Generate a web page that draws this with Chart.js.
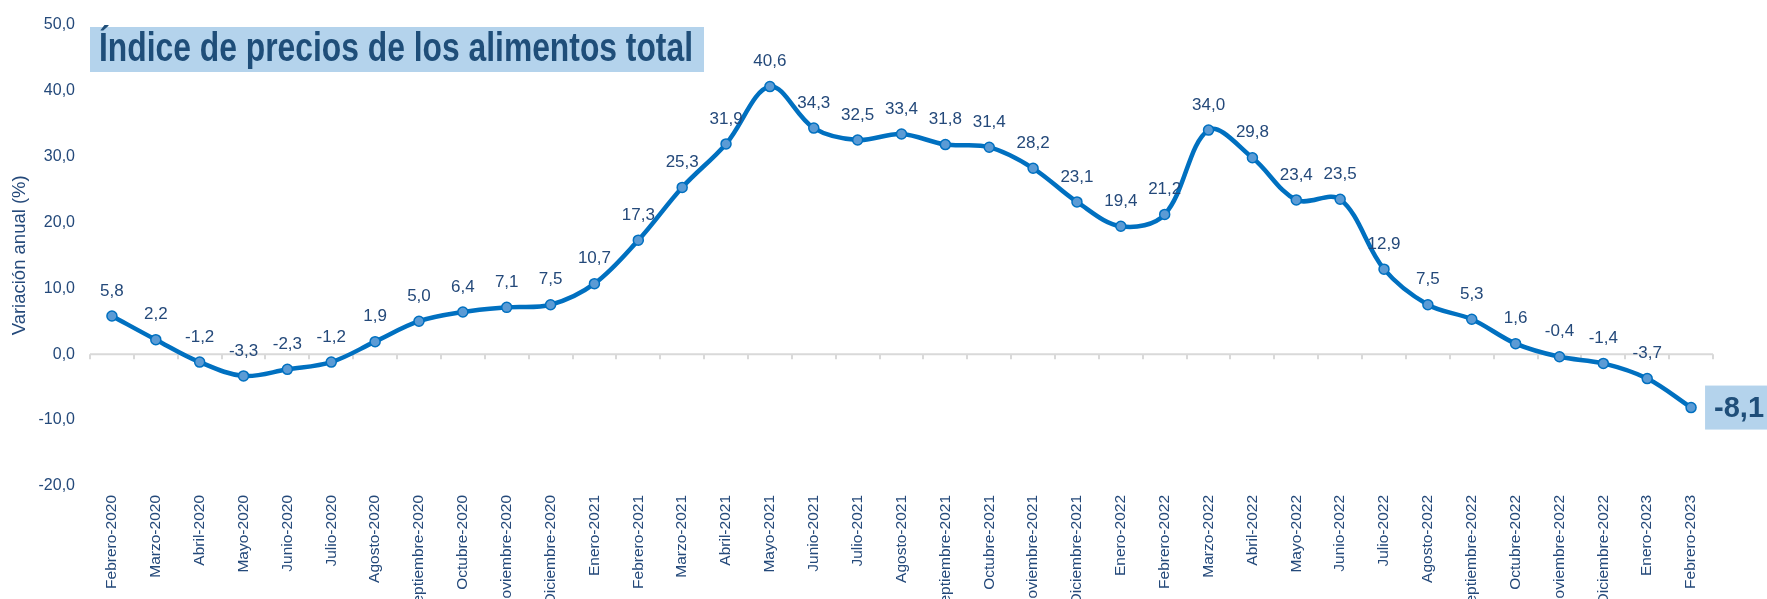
<!DOCTYPE html>
<html><head><meta charset="utf-8">
<script src="https://cdn.jsdelivr.net/npm/chart.js@4"></script>
<style>html,body{margin:0;padding:0;background:#fff;overflow:hidden}#wrap{width:1767px;height:599px;position:relative}</style>
</head><body><div id="wrap"><canvas id="c" width="1767" height="599"></canvas></div>
<script>
const categories = ['Febrero-2020','Marzo-2020','Abril-2020','Mayo-2020','Junio-2020','Julio-2020','Agosto-2020','Septiembre-2020','Octubre-2020','Noviembre-2020','Diciembre-2020',
  'Enero-2021','Febrero-2021','Marzo-2021','Abril-2021','Mayo-2021','Junio-2021','Julio-2021','Agosto-2021','Septiembre-2021','Octubre-2021','Noviembre-2021','Diciembre-2021',
  'Enero-2022','Febrero-2022','Marzo-2022','Abril-2022','Mayo-2022','Junio-2022','Julio-2022','Agosto-2022','Septiembre-2022','Octubre-2022','Noviembre-2022','Diciembre-2022',
  'Enero-2023','Febrero-2023'];
const values = [5.8, 2.2, -1.2, -3.3, -2.3, -1.2, 1.9, 5.0, 6.4, 7.1, 7.5,
  10.7, 17.3, 25.3, 31.9, 40.6, 34.3, 32.5, 33.4, 31.8, 31.4, 28.2, 23.1,
  19.4, 21.2, 34.0, 29.8, 23.4, 23.5, 12.9, 7.5, 5.3, 1.6, -0.4, -1.4,
  -3.7, -8.1];
const yMin = -20, yMax = 50, yStep = 10;
const chartTitle = 'Índice de precios de los alimentos total';
const yAxisTitle = 'Variación anual (%)';

const fmt = v => v.toFixed(1).replace('.', ',');
const FONT = '"Liberation Sans", Arial, sans-serif';
const TEXT = '#24497a';
const DARK = '#1f4e79';
const BOX = '#b4d3ec';

const decor = {
  id: 'decor',
  beforeDatasetsDraw(chart) {
    const ctx = chart.ctx, x = chart.scales.x, y = chart.scales.y, a = chart.chartArea;
    const y0 = y.getPixelForValue(0);
    const step = x.getPixelForValue(1) - x.getPixelForValue(0);
    ctx.save();
    ctx.strokeStyle = '#d9d9d9';
    ctx.lineWidth = 2;
    ctx.beginPath();
    ctx.moveTo(a.left, y0); ctx.lineTo(a.right, y0);
    for (let i = 0; i <= categories.length; i++) {
      const px = Math.round(x.getPixelForValue(0) + (i - 0.5) * step);
      ctx.moveTo(px, y0); ctx.lineTo(px, y0 + 5);
    }
    ctx.stroke();
    ctx.restore();
  },
  afterDraw(chart) {
    const ctx = chart.ctx;
    const meta = chart.getDatasetMeta(0);
    ctx.save();
    // data labels
    ctx.font = '17px ' + FONT;
    ctx.fillStyle = TEXT;
    ctx.textAlign = 'center';
    ctx.textBaseline = 'middle';
    const n = values.length;
    meta.data.forEach((pt, i) => {
      if (i === n - 1) return;
      ctx.fillText(fmt(values[i]), pt.x, pt.y - 25);
    });
    // last value callout
    const last = meta.data[n - 1];
    const bx = last.x + 14;
    ctx.fillStyle = BOX;
    ctx.fillRect(bx, last.y - 22, chart.width - bx, 44);
    ctx.font = 'bold 29px ' + FONT;
    ctx.fillStyle = DARK;
    ctx.textAlign = 'left';
    ctx.fillText(fmt(values[n - 1]), bx + 9, last.y + 1);
    // title box
    ctx.fillStyle = BOX;
    ctx.fillRect(90, 27, 614, 45);
    ctx.font = 'bold 40px ' + FONT;
    ctx.fillStyle = DARK;
    ctx.textAlign = 'left';
    ctx.textBaseline = 'alphabetic';
    const tw = ctx.measureText(chartTitle).width;
    const sx = 594 / tw;
    ctx.translate(99, 61);
    ctx.scale(sx, 1);
    ctx.fillText(chartTitle, 0, 0);
    ctx.restore();
  }
};

new Chart(document.getElementById('c'), {
  type: 'line',
  data: {
    labels: categories,
    datasets: [{
      data: values,
      borderColor: '#0070c0',
      borderWidth: 4.5,
      tension: 0.35,
      pointRadius: 5,
      pointBorderWidth: 1.5,
      pointBackgroundColor: '#5b9bd5',
      pointBorderColor: '#0070c0',
      clip: false
    }]
  },
  options: {
    responsive: false,
    animation: false,
    devicePixelRatio: 1,
    layout: { padding: { top: 15, right: 54, left: 0, bottom: 0 } },
    plugins: { legend: { display: false }, tooltip: { enabled: false } },
    scales: {
      x: {
        type: 'category',
        offset: true,
        grid: { display: false, drawTicks: false },
        border: { display: false },
        ticks: { autoSkip: false, maxRotation: 90, minRotation: 90, padding: 9,
          color: TEXT, font: { family: FONT, size: 15.5 } },
        afterFit(s) { s.height = 113; }
      },
      y: {
        min: yMin, max: yMax,
        ticks: { stepSize: yStep, padding: 15, color: TEXT, font: { family: FONT, size: 16 },
          callback: v => fmt(v) },
        grid: { display: false, drawTicks: false },
        border: { display: false },
        title: { display: true, text: yAxisTitle, color: TEXT, font: { family: FONT, size: 18.5 },
          padding: { top: 9, bottom: 0 } },
        afterFit(s) { s.width = 90; }
      }
    }
  },
  plugins: [decor]
});
</script></body></html>
